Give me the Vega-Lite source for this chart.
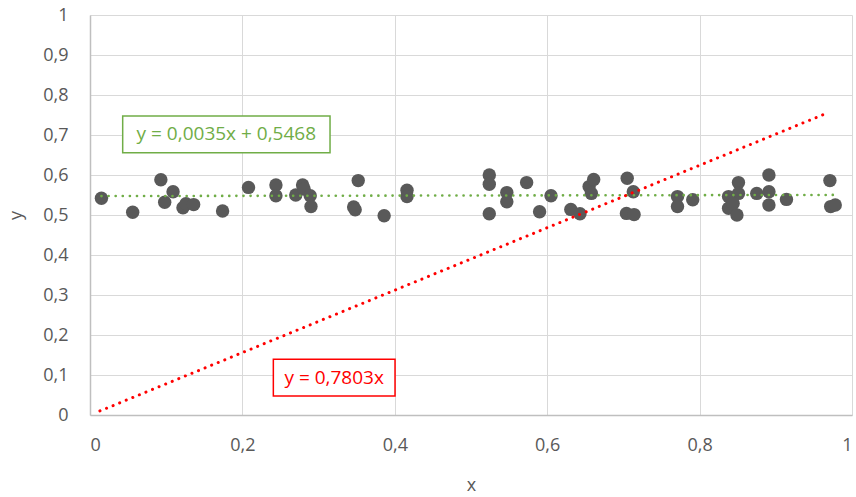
{
  "$schema": "https://vega.github.io/schema/vega-lite/v6.json",
  "width": 762,
  "height": 400,
  "autosize": {"type": "none"},
  "padding": {"left": 90, "top": 15, "right": 4, "bottom": 82},
  "background": "white",
  "config": {
    "view": {"stroke": null},
    "font": "Open Sans",
    "axis": {
      "labelFont": "Open Sans",
      "labelFontSize": 18,
      "labelColor": "#595959",
      "titleFont": "Open Sans",
      "titleFontSize": 18,
      "titleFontWeight": "normal",
      "titleColor": "#595959",
      "gridColor": "#D9D9D9",
      "gridWidth": 1,
      "domainColor": "#BFBFBF",
      "domainWidth": 1.5,
      "ticks": false,
      "labelOverlap": false
    },
    "axisX": {
      "labelPadding": 21,
      "titleY": 70,
      "titleBaseline": "middle"
    },
    "axisY": {
      "labelPadding": 22,
      "titleX": -74,
      "titleY": 200,
      "titleAngle": -90,
      "titleAlign": "center",
      "titleBaseline": "middle"
    }
  },
  "datasets": {
    "points": [
      {"x": 0.015, "y": 0.542}, {"x": 0.056, "y": 0.507}, {"x": 0.093, "y": 0.588},
      {"x": 0.098, "y": 0.532}, {"x": 0.109, "y": 0.558}, {"x": 0.122, "y": 0.518},
      {"x": 0.126, "y": 0.528}, {"x": 0.136, "y": 0.526}, {"x": 0.174, "y": 0.51},
      {"x": 0.208, "y": 0.569}, {"x": 0.244, "y": 0.575}, {"x": 0.244, "y": 0.548},
      {"x": 0.27, "y": 0.55}, {"x": 0.279, "y": 0.575}, {"x": 0.281, "y": 0.565},
      {"x": 0.289, "y": 0.548}, {"x": 0.29, "y": 0.521}, {"x": 0.352, "y": 0.586},
      {"x": 0.346, "y": 0.52}, {"x": 0.348, "y": 0.513}, {"x": 0.386, "y": 0.498},
      {"x": 0.416, "y": 0.562}, {"x": 0.416, "y": 0.546}, {"x": 0.524, "y": 0.6},
      {"x": 0.524, "y": 0.577}, {"x": 0.524, "y": 0.503}, {"x": 0.547, "y": 0.556},
      {"x": 0.547, "y": 0.533}, {"x": 0.573, "y": 0.581}, {"x": 0.59, "y": 0.508},
      {"x": 0.605, "y": 0.548}, {"x": 0.631, "y": 0.514}, {"x": 0.643, "y": 0.503},
      {"x": 0.655, "y": 0.571}, {"x": 0.661, "y": 0.589}, {"x": 0.658, "y": 0.554},
      {"x": 0.705, "y": 0.592}, {"x": 0.713, "y": 0.558}, {"x": 0.704, "y": 0.504},
      {"x": 0.714, "y": 0.501}, {"x": 0.771, "y": 0.546}, {"x": 0.771, "y": 0.521},
      {"x": 0.791, "y": 0.538}, {"x": 0.838, "y": 0.546}, {"x": 0.838, "y": 0.517},
      {"x": 0.851, "y": 0.581}, {"x": 0.851, "y": 0.554}, {"x": 0.849, "y": 0.5},
      {"x": 0.844, "y": 0.529}, {"x": 0.875, "y": 0.554}, {"x": 0.891, "y": 0.6},
      {"x": 0.891, "y": 0.558}, {"x": 0.891, "y": 0.525}, {"x": 0.914, "y": 0.539},
      {"x": 0.971, "y": 0.586}, {"x": 0.972, "y": 0.521}, {"x": 0.978, "y": 0.525}
    ],
    "trend": [
      {"series": "linear", "x": 0.015, "y": 0.5473},
      {"series": "linear", "x": 0.978, "y": 0.5502},
      {"series": "origin", "x": 0.013, "y": 0.0101},
      {"series": "origin", "x": 0.97, "y": 0.7569}
    ],
    "boxes": [
      {"series": "linear", "x1": 0.0429, "x2": 0.315, "y1": 0.6557, "y2": 0.7475, "cx": 0.1789, "cy": 0.7017, "label": "y = 0,0035x + 0,5468"},
      {"series": "origin", "x1": 0.2406, "x2": 0.4003, "y1": 0.0475, "y2": 0.1392, "cx": 0.3204, "cy": 0.0934, "label": "y = 0,7803x"}
    ]
  },
  "layer": [
    {
      "data": {"name": "points"},
      "mark": {"type": "circle", "size": 180, "color": "#595959", "opacity": 1},
      "encoding": {
        "x": {
          "field": "x", "type": "quantitative", "title": "x",
          "scale": {"domain": [0, 1], "nice": false, "zero": false},
          "axis": {"values": [0, 0.2, 0.4, 0.6, 0.8, 1], "labelExpr": "replace(format(datum.value, '~g'), '.', ',')"}
        },
        "y": {
          "field": "y", "type": "quantitative", "title": "y",
          "scale": {"domain": [0, 1], "nice": false, "zero": false},
          "axis": {"values": [0, 0.1, 0.2, 0.3, 0.4, 0.5, 0.6, 0.7, 0.8, 0.9, 1], "labelExpr": "replace(format(datum.value, '~g'), '.', ',')"}
        }
      }
    },
    {
      "data": {"name": "trend"},
      "mark": {"type": "line", "strokeCap": "round", "strokeDash": [0.1, 7]},
      "encoding": {
        "x": {"field": "x", "type": "quantitative", "title": "x",
          "axis": {"values": [0, 0.2, 0.4, 0.6, 0.8, 1], "labelExpr": "replace(format(datum.value, '~g'), '.', ',')"}},
        "y": {"field": "y", "type": "quantitative", "title": "y",
          "axis": {"values": [0, 0.1, 0.2, 0.3, 0.4, 0.5, 0.6, 0.7, 0.8, 0.9, 1], "labelExpr": "replace(format(datum.value, '~g'), '.', ',')"}},
        "detail": {"field": "series"},
        "color": {"field": "series", "type": "nominal", "scale": {"domain": ["linear", "origin"], "range": ["#70AD47", "#FF0000"]}, "legend": null},
        "strokeWidth": {"field": "series", "type": "nominal", "scale": {"domain": ["linear", "origin"], "range": [2.6, 3]}, "legend": null}
      }
    },
    {
      "data": {"name": "boxes"},
      "mark": {"type": "rect", "fill": "white", "strokeWidth": 1.5},
      "encoding": {
        "x": {"field": "x1", "type": "quantitative", "title": "x",
          "axis": {"values": [0, 0.2, 0.4, 0.6, 0.8, 1], "labelExpr": "replace(format(datum.value, '~g'), '.', ',')"}},
        "x2": {"field": "x2"},
        "y": {"field": "y1", "type": "quantitative", "title": "y",
          "axis": {"values": [0, 0.1, 0.2, 0.3, 0.4, 0.5, 0.6, 0.7, 0.8, 0.9, 1], "labelExpr": "replace(format(datum.value, '~g'), '.', ',')"}},
        "y2": {"field": "y2"},
        "stroke": {"field": "series", "type": "nominal", "scale": {"domain": ["linear", "origin"], "range": ["#70AD47", "#FF0000"]}, "legend": null}
      }
    },
    {
      "data": {"name": "boxes"},
      "mark": {"type": "text", "font": "Open Sans", "fontSize": 19, "align": "center", "baseline": "middle"},
      "encoding": {
        "x": {"field": "cx", "type": "quantitative", "title": "x",
          "axis": {"values": [0, 0.2, 0.4, 0.6, 0.8, 1], "labelExpr": "replace(format(datum.value, '~g'), '.', ',')"}},
        "y": {"field": "cy", "type": "quantitative", "title": "y",
          "axis": {"values": [0, 0.1, 0.2, 0.3, 0.4, 0.5, 0.6, 0.7, 0.8, 0.9, 1], "labelExpr": "replace(format(datum.value, '~g'), '.', ',')"}},
        "text": {"field": "label"},
        "color": {"field": "series", "type": "nominal", "scale": {"domain": ["linear", "origin"], "range": ["#70AD47", "#FF0000"]}, "legend": null}
      }
    }
  ]
}
